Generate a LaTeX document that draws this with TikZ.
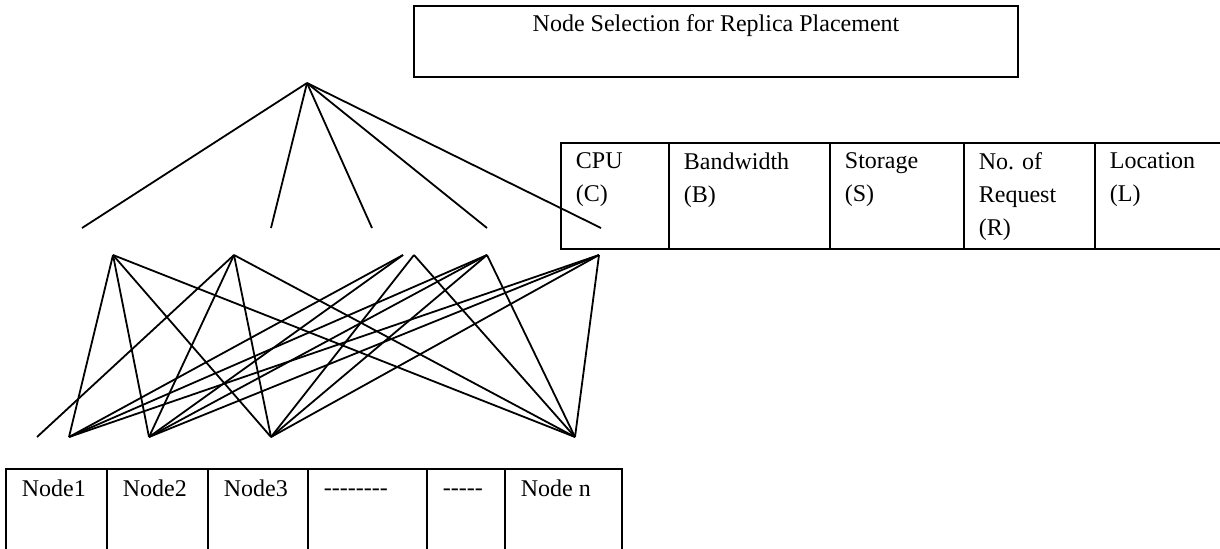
\documentclass[tikz,border=0pt]{standalone}
\usepackage{fontspec}
\setmainfont{Liberation Serif}
\usetikzlibrary{positioning}
\newcommand{\hy}{-\kern0pt}

\begin{document}
\begin{tikzpicture}[x=0.5pt, y=-0.5pt, line width=0.9pt,
                    cell/.style={draw, minimum width=#1, inner sep=0pt, outer sep=0pt},
                    crit/.style={cell=#1, minimum height=53pt},
                    alt/.style={cell=#1, minimum height=50pt},
                    txt/.style={inner sep=0pt, align=left, font=\fontsize{12}{16.5}\selectfont}]
    \useasboundingbox (0,0) rectangle (1220,548);

    \node (sel) [cell=302pt, minimum height=35.5pt, anchor=north west] at (414,6) {};
    \node [txt, below=4pt of sel.north] {Node Selection for Replica Placement};

    \node (cpu) [crit=54pt, anchor=north west] at (561,143) {};
    \node (bw)  [crit=80.5pt, right=0pt of cpu] {};
    \node (sto) [crit=67pt, right=0pt of bw] {};
    \node (req) [crit=65.5pt, right=0pt of sto] {};
    \node (loc) [crit=67.5pt, right=0pt of req] {};
    \foreach \c/\t in {cpu/{CPU\\(C)}, bw/{Bandwidth\\(B)}, sto/{Storage\\(S)},
                       req/{No. of\\Request\\(R)}, loc/{Location\\(L)}}
        \node [txt, below right=4.5pt and 7pt of \c.north west] {\t};

    \node (n1) [alt=50.5pt, anchor=north west] at (6,469) {};
    \node (n2) [alt=50.5pt, right=0pt of n1] {};
    \node (n3) [alt=50pt, right=0pt of n2] {};
    \node (d1) [alt=59.5pt, right=0pt of n3] {};
    \node (d2) [alt=39pt, right=0pt of d1] {};
    \node (nn) [alt=58.5pt, right=0pt of d2] {};
    \foreach \c/\t in {n1/Node1, n2/Node2, n3/Node3, d1/{\vphantom{N}\hy\hy\hy\hy\hy\hy\hy\hy},
                       d2/{\vphantom{N}\hy\hy\hy\hy\hy}, nn/Node n}
        \node [txt, below right=5pt and 7.5pt of \c.north west] {\t};

    \coordinate (apex) at (307,83);
    \foreach \x [count=\i] in {82,271,372,487,601}
        \coordinate (f\i) at (\x,228);
    \foreach \i in {1,...,5}
        \draw (apex) -- (f\i);

    \foreach \n/\x in {t1/113, t2/234, t3a/403, t3b/414, t4/487, t5/599}
        \coordinate (\n) at (\x,255);
    \foreach \n/\x in {b0/37, b1/69, b2/149, b3/271, b4/575}
        \coordinate (\n) at (\x,437);
    \foreach \s/\e in {t1/b1, t1/b2, t1/b3, t1/b4, t2/b0, t2/b2, t2/b3, t2/b4,
                       t3a/b1, t3a/b2, t3b/b3, t3b/b4, t4/b1, t4/b2, t4/b3, t4/b4,
                       t5/b1, t5/b2, t5/b3, t5/b4}
        \draw (\s) -- (\e);
\end{tikzpicture}
\end{document}
